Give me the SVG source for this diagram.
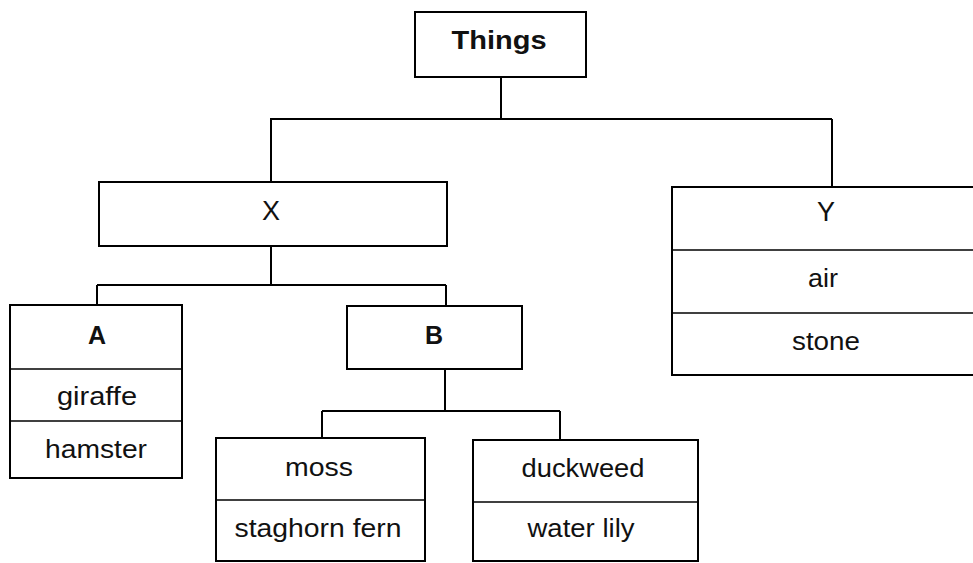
<svg xmlns="http://www.w3.org/2000/svg" width="973" height="563" viewBox="0 0 973 563">
<style>
.box{fill:#fff;stroke:#000;stroke-width:2}
.div{stroke:#000;stroke-width:1.6}
.con{fill:none;stroke:#000;stroke-width:2}
text{font-family:"Liberation Sans",Arial,sans-serif;font-size:25px;fill:#111;text-anchor:middle}
.b{font-weight:bold}
.big{font-size:27px}
</style>
<rect width="973" height="563" fill="#fff"/>
<g id="connectors">
<path class="con" d="M501,77 V119 M270,119 H832 M271,119 V182 M832,119 V187"/>
<path class="con" d="M271,246 V285 M97,285 H446 M97,285 V305 M446,285 V306"/>
<path class="con" d="M445,369 V411 M322,411 H560 M322,411 V438 M560,411 V440"/>
</g>
<g id="things">
<rect class="box" x="415" y="12" width="171" height="65"/>
<text class="b" x="499" y="49" textLength="95" lengthAdjust="spacingAndGlyphs">Things</text>
</g>
<g id="x">
<rect class="box" x="99" y="182" width="348" height="64"/>
<text class="big" x="271" y="220">X</text>
</g>
<g id="y">
<rect class="box" x="672" y="187" width="320" height="188"/>
<line class="div" x1="672" y1="250" x2="973" y2="250"/>
<line class="div" x1="672" y1="313" x2="973" y2="313"/>
<text class="big" x="826" y="221">Y</text>
<text x="823" y="287" textLength="30" lengthAdjust="spacingAndGlyphs">air</text>
<text x="826" y="350" textLength="68" lengthAdjust="spacingAndGlyphs">stone</text>
</g>
<g id="a">
<rect class="box" x="10" y="305" width="172" height="173"/>
<line class="div" x1="10" y1="369" x2="182" y2="369"/>
<line class="div" x1="10" y1="421" x2="182" y2="421"/>
<text class="b" x="97" y="344">A</text>
<text x="97" y="405" textLength="80" lengthAdjust="spacingAndGlyphs">giraffe</text>
<text x="96" y="458" textLength="102" lengthAdjust="spacingAndGlyphs">hamster</text>
</g>
<g id="b">
<rect class="box" x="347" y="306" width="175" height="63"/>
<text class="b" x="434" y="344">B</text>
</g>
<g id="moss">
<rect class="box" x="216" y="438" width="209" height="123"/>
<line class="div" x1="216" y1="500" x2="425" y2="500"/>
<text x="319" y="476" textLength="68" lengthAdjust="spacingAndGlyphs">moss</text>
<text x="318" y="537" textLength="167" lengthAdjust="spacingAndGlyphs">staghorn fern</text>
</g>
<g id="duckweed">
<rect class="box" x="473" y="440" width="225" height="121"/>
<line class="div" x1="473" y1="502" x2="698" y2="502"/>
<text x="583" y="477" textLength="123" lengthAdjust="spacingAndGlyphs">duckweed</text>
<text x="581" y="537" textLength="107" lengthAdjust="spacingAndGlyphs">water lily</text>
</g>
</svg>
